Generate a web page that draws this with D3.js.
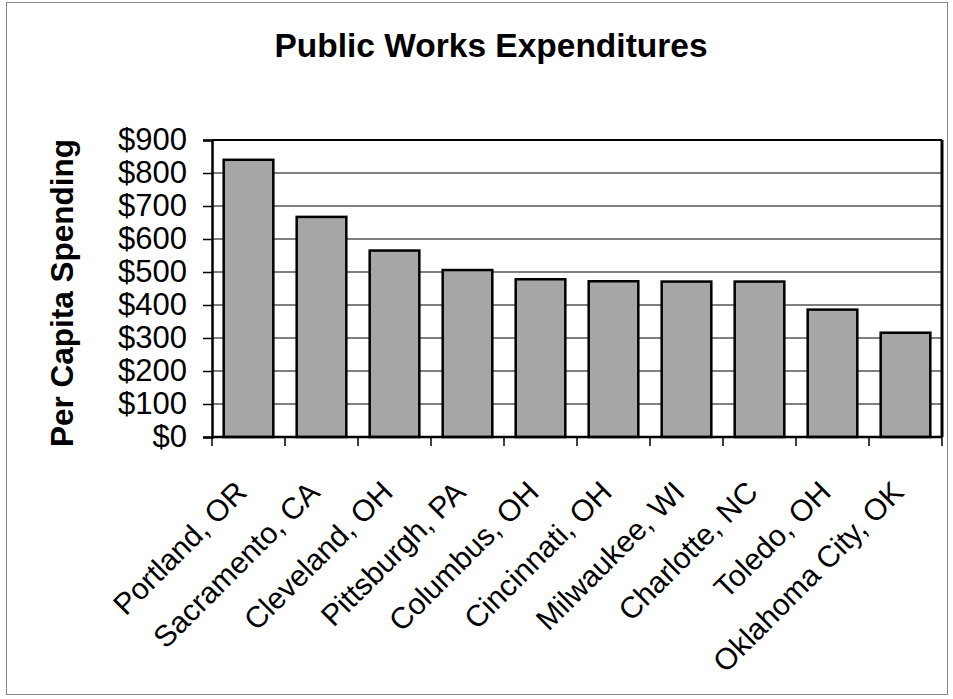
<!DOCTYPE html>
<html>
<head>
<meta charset="utf-8">
<script src="https://cdn.jsdelivr.net/npm/d3@7"></script>
<style>
  html, body { margin: 0; padding: 0; background: #fff; }
  svg { display: block; }
  text { font-family: "Liberation Sans", Arial, sans-serif; fill: #000; }
</style>
</head>
<body>
<div id="chart"></div>
<script>
const cities = ["Portland, OR", "Sacramento, CA", "Cleveland, OH", "Pittsburgh, PA", "Columbus, OH",
                "Cincinnati, OH", "Milwaukee, WI", "Charlotte, NC", "Toledo, OH", "Oklahoma City, OK"];
const spending = [840, 667, 565, 506, 478, 472, 471, 471, 386, 316];
const yTicks = [0, 100, 200, 300, 400, 500, 600, 700, 800, 900];
const chartTitle = "Public Works Expenditures";
const yTitle = "Per Capita Spending";

const W = 953, H = 699;
const plot = { left: 212, right: 942, top: 140, bottom: 437 };

const svg = d3.select("#chart").append("svg").attr("width", W).attr("height", H);

// outer frame
svg.append("rect").attr("x", 6.5).attr("y", 2.5).attr("width", 941).attr("height", 692)
  .attr("fill", "none").attr("stroke", "#888").attr("stroke-width", 1);

const x = d3.scaleBand().domain(cities).range([plot.left, plot.right])
  .paddingInner(0.32).paddingOuter(0.16);
const y = d3.scaleLinear().domain([0, 900]).range([plot.bottom, plot.top]);

// gridlines
svg.append("g").selectAll("line").data(yTicks.filter(d => d > 0)).join("line")
  .attr("x1", plot.left).attr("x2", plot.right)
  .attr("y1", d => y(d)).attr("y2", d => y(d))
  .attr("stroke", "#000").attr("stroke-width", 1);

// bars
svg.append("g").selectAll("rect").data(cities).join("rect")
  .attr("x", d => x(d))
  .attr("y", (d, i) => y(spending[i]))
  .attr("width", x.bandwidth())
  .attr("height", (d, i) => y(0) - y(spending[i]))
  .attr("fill", "#a6a6a6")
  .attr("stroke", "#000").attr("stroke-width", 2.5);

// plot frame: top and right
svg.append("line").attr("x1", plot.left).attr("x2", plot.right).attr("y1", plot.top).attr("y2", plot.top)
  .attr("stroke", "#000").attr("stroke-width", 2);
svg.append("line").attr("x1", plot.right).attr("x2", plot.right).attr("y1", plot.top).attr("y2", plot.bottom)
  .attr("stroke", "#000").attr("stroke-width", 3);

// y axis
const yAxis = d3.axisLeft(y).tickValues(yTicks).tickSize(9).tickPadding(16)
  .tickFormat(d => "$" + d);
const gy = svg.append("g").attr("transform", `translate(${plot.left},0)`).call(yAxis);
gy.select(".domain").attr("stroke", "#000").attr("stroke-width", 2.5);
gy.selectAll(".tick line").attr("stroke", "#000").attr("stroke-width", 1.5);
gy.selectAll(".tick text").attr("font-size", 31).attr("font-family", "Liberation Sans, Arial, sans-serif");

// x axis with ticks at category boundaries
const gx = svg.append("g").attr("transform", `translate(0,${plot.bottom})`);
gx.append("line").attr("x1", plot.left).attr("x2", plot.right)
  .attr("stroke", "#000").attr("stroke-width", 2.5);
const step = x.step();
const boundaries = cities.map(c => x(c) - step * 0.16).concat([plot.right]);
gx.selectAll("line.tk").data(boundaries).join("line").attr("class", "tk")
  .attr("x1", d => d).attr("x2", d => d).attr("y1", 0).attr("y2", 9)
  .attr("stroke", "#000").attr("stroke-width", 1.5);

svg.append("g").selectAll("text").data(cities).join("text")
  .attr("transform", d => `translate(${x(d) + x.bandwidth() / 2},${plot.bottom + 57}) rotate(-45)`)
  .attr("text-anchor", "end")
  .attr("font-size", 30)
  .text(d => d);

// title
svg.append("text").attr("x", 491).attr("y", 57).attr("text-anchor", "middle")
  .attr("font-size", 33.5).attr("font-weight", "bold").text(chartTitle);

// y title
svg.append("text").attr("transform", `translate(73,293) rotate(-90)`)
  .attr("text-anchor", "middle").attr("font-size", 31.5).attr("font-weight", "bold").text(yTitle);
</script>
</body>
</html>
